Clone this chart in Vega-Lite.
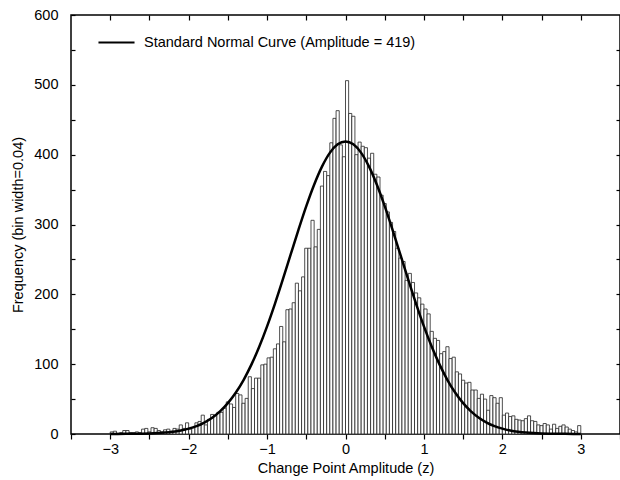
{
"$schema": "https://vega.github.io/schema/vega-lite/v6.json",
"width": 549, "height": 419,
"autosize": "none",
"padding": {"left": 71, "top": 15, "right": 0, "bottom": 46},
"background": "white",
"config": {"view": {"stroke": "black", "strokeWidth": 1.5}, "font": "Liberation Sans"},
"datasets": {
"bins": [
{"lo":-3.00,"hi":-2.96,"n":3},{"lo":-2.96,"hi":-2.92,"n":4},{"lo":-2.92,"hi":-2.88,"n":1},{"lo":-2.88,"hi":-2.84,"n":2},{"lo":-2.84,"hi":-2.80,"n":5},
{"lo":-2.80,"hi":-2.76,"n":5},{"lo":-2.76,"hi":-2.72,"n":2},{"lo":-2.72,"hi":-2.68,"n":2},{"lo":-2.68,"hi":-2.64,"n":3},{"lo":-2.64,"hi":-2.60,"n":2},
{"lo":-2.60,"hi":-2.56,"n":7},{"lo":-2.56,"hi":-2.52,"n":8},{"lo":-2.52,"hi":-2.48,"n":3},{"lo":-2.48,"hi":-2.44,"n":9},{"lo":-2.44,"hi":-2.40,"n":8},
{"lo":-2.40,"hi":-2.36,"n":5},{"lo":-2.36,"hi":-2.32,"n":3},{"lo":-2.32,"hi":-2.28,"n":6},{"lo":-2.28,"hi":-2.24,"n":7},{"lo":-2.24,"hi":-2.20,"n":4},
{"lo":-2.20,"hi":-2.16,"n":8},{"lo":-2.16,"hi":-2.12,"n":7},{"lo":-2.12,"hi":-2.08,"n":13},{"lo":-2.08,"hi":-2.04,"n":8},{"lo":-2.04,"hi":-2.00,"n":16},
{"lo":-2.00,"hi":-1.96,"n":7},{"lo":-1.96,"hi":-1.92,"n":9},{"lo":-1.92,"hi":-1.88,"n":16},{"lo":-1.88,"hi":-1.84,"n":18},{"lo":-1.84,"hi":-1.80,"n":27},
{"lo":-1.80,"hi":-1.76,"n":13},{"lo":-1.76,"hi":-1.72,"n":21},{"lo":-1.72,"hi":-1.68,"n":28},{"lo":-1.68,"hi":-1.64,"n":27},{"lo":-1.64,"hi":-1.60,"n":31},
{"lo":-1.60,"hi":-1.56,"n":31},{"lo":-1.56,"hi":-1.52,"n":37},{"lo":-1.52,"hi":-1.48,"n":46},{"lo":-1.48,"hi":-1.44,"n":43},{"lo":-1.44,"hi":-1.40,"n":38},
{"lo":-1.40,"hi":-1.36,"n":58},{"lo":-1.36,"hi":-1.32,"n":56},{"lo":-1.32,"hi":-1.28,"n":44},{"lo":-1.28,"hi":-1.24,"n":51},{"lo":-1.24,"hi":-1.20,"n":82},
{"lo":-1.20,"hi":-1.16,"n":65},{"lo":-1.16,"hi":-1.12,"n":80},{"lo":-1.12,"hi":-1.08,"n":80},{"lo":-1.08,"hi":-1.04,"n":99},{"lo":-1.04,"hi":-1.00,"n":100},
{"lo":-1.00,"hi":-0.96,"n":109},{"lo":-0.96,"hi":-0.92,"n":110},{"lo":-0.92,"hi":-0.88,"n":122},{"lo":-0.88,"hi":-0.84,"n":129},{"lo":-0.84,"hi":-0.80,"n":154},
{"lo":-0.80,"hi":-0.76,"n":132},{"lo":-0.76,"hi":-0.72,"n":178},{"lo":-0.72,"hi":-0.68,"n":179},{"lo":-0.68,"hi":-0.64,"n":188},{"lo":-0.64,"hi":-0.60,"n":216},
{"lo":-0.60,"hi":-0.56,"n":205},{"lo":-0.56,"hi":-0.52,"n":225},{"lo":-0.52,"hi":-0.48,"n":266},{"lo":-0.48,"hi":-0.44,"n":266},{"lo":-0.44,"hi":-0.40,"n":306},
{"lo":-0.40,"hi":-0.36,"n":268},{"lo":-0.36,"hi":-0.32,"n":293},{"lo":-0.32,"hi":-0.28,"n":355},{"lo":-0.28,"hi":-0.24,"n":376},{"lo":-0.24,"hi":-0.20,"n":370},
{"lo":-0.20,"hi":-0.16,"n":417},{"lo":-0.16,"hi":-0.12,"n":452},{"lo":-0.12,"hi":-0.08,"n":463},{"lo":-0.08,"hi":-0.04,"n":414},{"lo":-0.04,"hi":0.00,"n":397},
{"lo":0.00,"hi":0.04,"n":506},{"lo":0.04,"hi":0.08,"n":459},{"lo":0.08,"hi":0.12,"n":455},{"lo":0.12,"hi":0.16,"n":400},{"lo":0.16,"hi":0.20,"n":418},
{"lo":0.20,"hi":0.24,"n":412},{"lo":0.24,"hi":0.28,"n":410},{"lo":0.28,"hi":0.32,"n":395},{"lo":0.32,"hi":0.36,"n":402},{"lo":0.36,"hi":0.40,"n":372},
{"lo":0.40,"hi":0.44,"n":368},{"lo":0.44,"hi":0.48,"n":342},{"lo":0.48,"hi":0.52,"n":330},{"lo":0.52,"hi":0.56,"n":318},{"lo":0.56,"hi":0.60,"n":303},
{"lo":0.60,"hi":0.64,"n":290},{"lo":0.64,"hi":0.68,"n":266},{"lo":0.68,"hi":0.72,"n":252},{"lo":0.72,"hi":0.76,"n":247},{"lo":0.76,"hi":0.80,"n":220},
{"lo":0.80,"hi":0.84,"n":230},{"lo":0.84,"hi":0.88,"n":217},{"lo":0.88,"hi":0.92,"n":202},{"lo":0.92,"hi":0.96,"n":195},{"lo":0.96,"hi":1.00,"n":186},
{"lo":1.00,"hi":1.04,"n":179},{"lo":1.04,"hi":1.08,"n":172},{"lo":1.08,"hi":1.12,"n":147},{"lo":1.12,"hi":1.16,"n":137},{"lo":1.16,"hi":1.20,"n":134},
{"lo":1.20,"hi":1.24,"n":115},{"lo":1.24,"hi":1.28,"n":118},{"lo":1.28,"hi":1.32,"n":125},{"lo":1.32,"hi":1.36,"n":108},{"lo":1.36,"hi":1.40,"n":110},
{"lo":1.40,"hi":1.44,"n":89},{"lo":1.44,"hi":1.48,"n":86},{"lo":1.48,"hi":1.52,"n":77},{"lo":1.52,"hi":1.56,"n":73},{"lo":1.56,"hi":1.60,"n":74},
{"lo":1.60,"hi":1.64,"n":63},{"lo":1.64,"hi":1.68,"n":63},{"lo":1.68,"hi":1.72,"n":51},{"lo":1.72,"hi":1.76,"n":57},{"lo":1.76,"hi":1.80,"n":50},
{"lo":1.80,"hi":1.84,"n":34},{"lo":1.84,"hi":1.88,"n":55},{"lo":1.88,"hi":1.92,"n":52},{"lo":1.92,"hi":1.96,"n":44},{"lo":1.96,"hi":2.00,"n":52},
{"lo":2.00,"hi":2.04,"n":27},{"lo":2.04,"hi":2.08,"n":30},{"lo":2.08,"hi":2.12,"n":25},{"lo":2.12,"hi":2.16,"n":26},{"lo":2.16,"hi":2.20,"n":21},
{"lo":2.20,"hi":2.24,"n":20},{"lo":2.24,"hi":2.28,"n":19},{"lo":2.28,"hi":2.32,"n":22},{"lo":2.32,"hi":2.36,"n":26},{"lo":2.36,"hi":2.40,"n":19},
{"lo":2.40,"hi":2.44,"n":18},{"lo":2.44,"hi":2.48,"n":13},{"lo":2.48,"hi":2.52,"n":12},{"lo":2.52,"hi":2.56,"n":15},{"lo":2.56,"hi":2.60,"n":13},
{"lo":2.60,"hi":2.64,"n":7},{"lo":2.64,"hi":2.68,"n":14},{"lo":2.68,"hi":2.72,"n":8},{"lo":2.72,"hi":2.76,"n":11},{"lo":2.76,"hi":2.80,"n":13},
{"lo":2.80,"hi":2.84,"n":10},{"lo":2.84,"hi":2.88,"n":7},{"lo":2.88,"hi":2.92,"n":5},{"lo":2.92,"hi":2.96,"n":3},{"lo":2.96,"hi":3.00,"n":12}
],
"curve": [
{"z":-3.0,"f":0},{"z":-2.8,"f":0.2},{"z":-2.6,"f":0.5},{"z":-2.5,"f":0.8},{"z":-2.4,"f":1.3},{"z":-2.3,"f":2.1},{"z":-2.2,"f":3.3},{"z":-2.1,"f":5.1},
{"z":-2.0,"f":7.7},{"z":-1.9,"f":11.3},{"z":-1.8,"f":16.4},{"z":-1.7,"f":23.3},{"z":-1.6,"f":32.4},{"z":-1.5,"f":44.2},{"z":-1.4,"f":59.0},
{"z":-1.3,"f":77.3},{"z":-1.2,"f":99.3},{"z":-1.1,"f":124.9},{"z":-1.0,"f":154.1},{"z":-0.9,"f":186.4},{"z":-0.8,"f":220.9},{"z":-0.7,"f":256.7},
{"z":-0.6,"f":292.3},{"z":-0.5,"f":326.3},{"z":-0.4,"f":357.0},{"z":-0.3,"f":382.9},{"z":-0.2,"f":402.6},{"z":-0.1,"f":414.8},{"z":0.0,"f":419.0},
{"z":0.1,"f":414.8},{"z":0.2,"f":402.6},{"z":0.3,"f":382.9},{"z":0.4,"f":357.0},{"z":0.5,"f":326.3},{"z":0.6,"f":292.3},{"z":0.7,"f":256.7},
{"z":0.8,"f":220.9},{"z":0.9,"f":186.4},{"z":1.0,"f":154.1},{"z":1.1,"f":124.9},{"z":1.2,"f":99.3},{"z":1.3,"f":77.3},{"z":1.4,"f":59.0},
{"z":1.5,"f":44.2},{"z":1.6,"f":32.4},{"z":1.7,"f":23.3},{"z":1.8,"f":16.4},{"z":1.9,"f":11.3},{"z":2.0,"f":7.7},{"z":2.1,"f":5.1},{"z":2.2,"f":3.3},
{"z":2.3,"f":2.1},{"z":2.4,"f":1.3},{"z":2.5,"f":0.8},{"z":2.6,"f":0.5},{"z":2.8,"f":0.2},{"z":3.0,"f":0}
]
},
"layer": [
{
"data": {"name": "bins"},
"mark": {"type": "rect", "fill": "white", "stroke": "#222222", "strokeWidth": 0.8},
"encoding": {
"x": {"field": "lo", "type": "quantitative", "scale": {"domain": [-3.5, 3.5], "nice": false, "zero": false},
 "axis": {"orient": "bottom", "values": [-3.5,-3,-2.5,-2,-1.5,-1,-0.5,0,0.5,1,1.5,2,2.5,3,3.5],
  "labelExpr": "(datum.value % 1 == 0 && abs(datum.value) < 3.5) ? format(datum.value, 'd') : ''",
  "title": "Change Point Amplitude (z)", "grid": false, "domain": false, "tickColor": "black", "tickSize": 5, "tickWidth": 1.2,
  "labelFontSize": 14.5, "labelColor": "black", "labelPadding": 3, "titleFontSize": 14.5, "titleFontWeight": "normal", "titleColor": "black", "titlePadding": 6}},
"x2": {"field": "hi"},
"y": {"field": "n", "type": "quantitative", "scale": {"domain": [0, 600], "nice": false},
 "axis": {"orient": "left", "values": [0,50,100,150,200,250,300,350,400,450,500,550,600],
  "labelExpr": "datum.value % 100 == 0 ? format(datum.value, 'd') : ''",
  "title": "Frequency (bin width=0.04)", "grid": false, "domain": false, "tickColor": "black", "tickSize": -4, "tickWidth": 1.2,
  "labelFontSize": 14.5, "labelColor": "black", "labelPadding": 17, "titleFontSize": 14.5, "titleFontWeight": "normal", "titleColor": "black", "titlePadding": 8}},
"y2": {"datum": 0}
}
},
{
"data": {"name": "curve"},
"mark": {"type": "line", "strokeWidth": 2.5, "interpolate": "monotone"},
"encoding": {
"x": {"field": "z", "type": "quantitative",
 "axis": {"orient": "top", "values": [-3,-2.5,-2,-1.5,-1,-0.5,0,0.5,1,1.5,2,2.5,3], "labels": false, "title": null, "grid": false, "domain": false, "tickColor": "black", "tickSize": -5, "tickWidth": 1.2}},
"y": {"field": "f", "type": "quantitative",
 "axis": {"orient": "right", "values": [50,100,150,200,250,300,350,400,450,500,550], "labels": false, "title": null, "grid": false, "domain": false, "tickColor": "black", "tickSize": -4, "tickWidth": 1.2}},
"color": {"datum": "Standard Normal Curve (Amplitude = 419)", "type": "nominal", "scale": {"range": ["black"]},
 "legend": {"title": null, "orient": "none", "legendX": 26, "legendY": 8, "symbolType": "stroke", "symbolSize": 1300, "symbolStrokeWidth": 2,
  "labelFontSize": 14.5, "labelColor": "black", "labelOffset": 8, "labelLimit": 0}}
}
}
],
"resolve": {"axis": {"x": "independent", "y": "independent"}}
}
